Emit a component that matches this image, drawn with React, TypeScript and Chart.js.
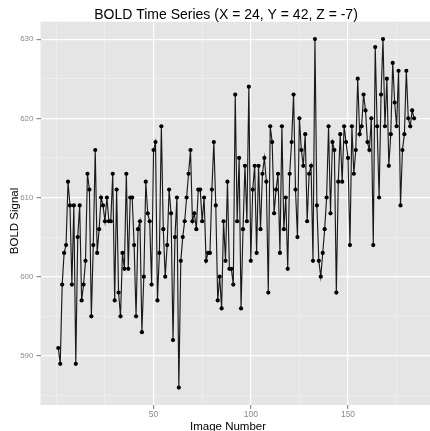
import { useEffect, useRef } from "react";
import { Chart, registerables } from "chart.js";

Chart.register(...registerables);

const chartTitle = "BOLD Time Series (X = 24, Y = 42, Z = -7)";
const xAxisTitle = "Image Number";
const yAxisTitle = "BOLD Signal";

// BOLD signal per image number (1..184)
const boldSignal = [
  591, 589, 599, 603, 604, 612, 609, 599, 609, 589,
  605, 609, 597, 599, 602, 613, 611, 595, 604, 616,
  603, 606, 610, 609, 607, 610, 607, 607, 613, 597,
  611, 598, 595, 603, 601, 613, 601, 610, 610, 604,
  595, 606, 607, 593, 600, 612, 608, 607, 599, 616,
  617, 597, 603, 619, 606, 600, 604, 611, 608, 592,
  605, 610, 586, 602, 605, 607, 610, 613, 616, 607,
  608, 606, 611, 611, 607, 610, 602, 603, 603, 611,
  617, 609, 597, 600, 596, 607, 602, 612, 601, 601,
  599, 623, 607, 615, 596, 606, 614, 607, 624, 602,
  611, 614, 603, 614, 606, 613, 615, 612, 598, 619,
  617, 608, 611, 613, 603, 619, 606, 610, 601, 613,
  617, 623, 611, 605, 620, 616, 614, 618, 607, 613,
  614, 602, 630, 609, 602, 600, 603, 606, 610, 619,
  608, 617, 616, 598, 612, 618, 612, 619, 617, 615,
  604, 619, 613, 616, 625, 618, 619, 623, 621, 617,
  616, 620, 604, 629, 619, 610, 623, 630, 619, 625,
  614, 618, 627, 622, 619, 626, 609, 616, 618, 626,
  620, 619, 621, 620,
];

const xMajorTicks = [50, 100, 150];
const xMinorTicks = [0, 25, 75, 125, 175];
const yMajorTicks = [590, 600, 610, 620, 630];
const yMinorTicks = [585, 595, 605, 615, 625];

const X_MIN = -8.15;
const X_MAX = 193.15;
const Y_MIN = 583.8;
const Y_MAX = 632.2;

const PANEL_BG = "#E5E5E5";
const MINOR_GRID = "#F2F2F2";
const TICK_TEXT = "#8C8C8C";
const TICK_MARK = "#8C8C8C";
const FONT = "'Liberation Sans', Arial, Helvetica, sans-serif";

export default function App() {
  const canvasRef = useRef<HTMLCanvasElement | null>(null);

  useEffect(() => {
    const canvas = canvasRef.current;
    if (!canvas) return;

    const points = boldSignal.map((v, i) => ({ x: i + 1, y: v }));

    const decorPlugin = {
      id: "ggDecor",
      beforeDraw(chart: any) {
        const { ctx, chartArea } = chart;
        ctx.save();
        ctx.fillStyle = "#FFFFFF";
        ctx.fillRect(0, 0, chart.width, chart.height);
        ctx.fillStyle = PANEL_BG;
        ctx.fillRect(
          chartArea.left,
          chartArea.top,
          chartArea.right - chartArea.left,
          chartArea.bottom - chartArea.top
        );
        ctx.restore();
      },
      afterDraw(chart: any) {
        const { ctx } = chart;
        ctx.save();
        ctx.fillStyle = "#000000";
        ctx.textAlign = "center";
        ctx.textBaseline = "alphabetic";
        ctx.font = `14px ${FONT}`;
        ctx.fillText(chartTitle, 226, 19);
        ctx.font = `11.5px ${FONT}`;
        ctx.fillText(xAxisTitle, 228, 429.5);
        ctx.translate(17.5, 221);
        ctx.rotate(-Math.PI / 2);
        ctx.fillText(yAxisTitle, 0, 0);
        ctx.restore();
      },
    };

    const isXMajor = (v: number) => xMajorTicks.includes(v);
    const isYMajor = (v: number) => yMajorTicks.includes(v);

    const chart = new Chart(canvas, {
      type: "line",
      data: {
        datasets: [
          {
            data: points,
            borderColor: "#1A1A1A",
            borderWidth: 1.15,
            pointRadius: 2.1,
            pointBackgroundColor: "#000000",
            pointBorderWidth: 0,
            pointHoverRadius: 2.1,
            tension: 0,
          },
        ],
      },
      options: {
        responsive: false,
        animation: false,
        events: [],
        layout: { padding: { top: 21.7, left: 0, right: 0, bottom: 0 } },
        plugins: {
          legend: { display: false },
          tooltip: { enabled: false },
          title: { display: false },
        },
        scales: {
          x: {
            type: "linear",
            min: X_MIN,
            max: X_MAX,
            afterBuildTicks: (s: any) => {
              s.ticks = [...xMinorTicks, ...xMajorTicks]
                .sort((a, b) => a - b)
                .map((v) => ({ value: v }));
            },
            afterFit: (s: any) => {
              s.height = 26;
            },
            border: { display: false },
            grid: {
              color: (c: any) => (isXMajor(c.tick?.value) ? "#FFFFFF" : MINOR_GRID),
              lineWidth: (c: any) => (isXMajor(c.tick?.value) ? 1.2 : 0.6),
              tickColor: (c: any) =>
                isXMajor(c.tick?.value) ? TICK_MARK : "rgba(0,0,0,0)",
              tickLength: 4,
              drawTicks: true,
            },
            ticks: {
              autoSkip: false,
              maxRotation: 0,
              padding: 1,
              color: TICK_TEXT,
              font: { size: 8.5, family: FONT },
              callback: (v: any) => (isXMajor(Number(v)) ? String(v) : ""),
            },
          },
          y: {
            type: "linear",
            min: Y_MIN,
            max: Y_MAX,
            afterBuildTicks: (s: any) => {
              s.ticks = [...yMinorTicks, ...yMajorTicks]
                .sort((a, b) => a - b)
                .map((v) => ({ value: v }));
            },
            afterFit: (s: any) => {
              s.width = 40.5;
            },
            border: { display: false },
            grid: {
              color: (c: any) => (isYMajor(c.tick?.value) ? "#FFFFFF" : MINOR_GRID),
              lineWidth: (c: any) => (isYMajor(c.tick?.value) ? 1.2 : 0.6),
              tickColor: (c: any) =>
                isYMajor(c.tick?.value) ? TICK_MARK : "rgba(0,0,0,0)",
              tickLength: 4,
              drawTicks: true,
            },
            ticks: {
              autoSkip: false,
              padding: 3,
              color: TICK_TEXT,
              font: { size: 8, family: FONT },
              callback: (v: any) => (isYMajor(Number(v)) ? String(v) : ""),
            },
          },
        },
      },
      plugins: [decorPlugin],
    } as any);

    return () => {
      chart.destroy();
    };
  }, []);

  return (
    <div
      style={{
        position: "absolute",
        left: 0,
        top: 0,
        width: 430,
        height: 431,
        overflow: "hidden",
        background: "#FFFFFF",
      }}
    >
      <canvas
        ref={canvasRef}
        width={434}
        height={431}
        style={{ width: 434, height: 431, display: "block" }}
      />
    </div>
  );
}
